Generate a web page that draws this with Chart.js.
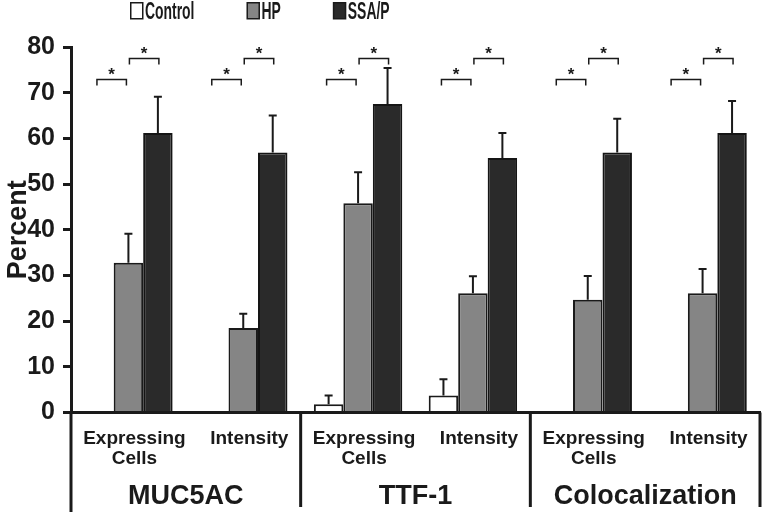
<!DOCTYPE html>
<html>
<head>
<meta charset="utf-8">
<script src="https://cdn.jsdelivr.net/npm/chart.js@4.4.1/dist/chart.umd.min.js"></script>
<style>
  body { margin: 0; background: #fff; }
  #wrap { width: 763px; height: 512px; }
</style>
</head>
<body>
<div id="wrap"><canvas id="grafica"></canvas></div>
<script>
// datos
const categorias = [['Expressing', 'Cells'], 'Intensity', ['Expressing', 'Cells'], 'Intensity', ['Expressing', 'Cells'], 'Intensity'];
const grupos = ['MUC5AC', 'TTF-1', 'Colocalization'];
const series = ['Control', 'HP', 'SSA/P'];
const control = [0, 0, 1.8, 3.7, 0, 0];
const controlErr = [0, 0, 1.9, 3.6, 0, 0];
const hp = [32.8, 18.5, 45.8, 26.1, 24.7, 26.1];
const hpErr = [6.3, 3.1, 6.8, 3.7, 5.2, 5.3];
const ssap = [61.2, 56.9, 67.5, 55.7, 56.9, 61.2];
const ssapErr = [7.9, 8.1, 7.9, 5.5, 7.4, 7.0];
const yTicks = [0, 10, 20, 30, 40, 50, 60, 70, 80];
const nivelSig = [73.1, 77.5]; // altura de los corchetes * (control-HP, HP-SSA/P)

const NEGRO = '#1a1a1a';
const rellenos = ['#ffffff', '#858585', '#2a2a2a'];
const FUENTE = '"Liberation Sans", Arial, sans-serif';

// barras de error solo hacia arriba
const erroresPlugin = {
    id: 'errores',
    afterDatasetsDraw(chart) {
        const ctx = chart.ctx;
        const y = chart.scales.y;
        const errs = [controlErr, hpErr, ssapErr];
        ctx.save();
        ctx.strokeStyle = NEGRO;
        ctx.lineWidth = 2;
        chart.data.datasets.forEach((ds, i) => {
            chart.getDatasetMeta(i).data.forEach((bar, j) => {
                const e = errs[i][j];
                if (!e) return;
                const top = y.getPixelForValue(ds.data[j] + e);
                ctx.beginPath();
                ctx.moveTo(bar.x, bar.y);
                ctx.lineTo(bar.x, top);
                ctx.moveTo(bar.x - 4, top);
                ctx.lineTo(bar.x + 4, top);
                ctx.stroke();
            });
        });
        ctx.restore();
    }
};

// corchetes de significancia, leyenda, separadores y nombres de grupo
const extrasPlugin = {
    id: 'extras',
    afterDraw(chart) {
        const ctx = chart.ctx;
        const x = chart.scales.x;
        const y = chart.scales.y;
        const area = chart.chartArea;
        const m0 = chart.getDatasetMeta(0).data;
        const m1 = chart.getDatasetMeta(1).data;
        const m2 = chart.getDatasetMeta(2).data;
        ctx.save();
        ctx.strokeStyle = NEGRO;
        ctx.fillStyle = NEGRO;
        ctx.lineWidth = 1.5;
        ctx.textAlign = 'center';
        ctx.textBaseline = 'middle';
        ctx.font = 'bold 17px ' + FUENTE;
        for (let j = 0; j < categorias.length; j++) {
            const pares = [[m0[j].x - 2, m1[j].x - 2, nivelSig[0]], [m1[j].x + 1, m2[j].x + 1, nivelSig[1]]];
            pares.forEach(([a, b, v]) => {
                const py = Math.round(y.getPixelForValue(v)) + 0.5;
                ctx.beginPath();
                ctx.moveTo(a, py + 6);
                ctx.lineTo(a, py);
                ctx.lineTo(b, py);
                ctx.lineTo(b, py + 6);
                ctx.stroke();
                ctx.fillText('*', (a + b) / 2, py - 4);
            });
        }

        // separadores
        ctx.lineWidth = 3;
        [-0.5, 1.5, 3.5, 5.5].forEach((v, k) => {
            const px = x.getPixelForValue(v);
            ctx.beginPath();
            ctx.moveTo(px, area.bottom);
            ctx.lineTo(px, k === 0 ? chart.height : chart.height - 5);
            ctx.stroke();
        });

        // nombres de grupo
        ctx.font = 'bold 27px ' + FUENTE;
        grupos.forEach((g, k) => {
            const cx = (x.getPixelForValue(2 * k - 0.5) + x.getPixelForValue(2 * k + 1.5)) / 2;
            ctx.fillText(g, cx, 497);
        });

        // leyenda (letra condensada)
        ctx.textAlign = 'left';
        ctx.font = 'bold 24px ' + FUENTE;
        ctx.lineWidth = 1.5;
        const comp = 0.58;
        let lx = 130;
        series.forEach((s, i) => {
            ctx.fillStyle = rellenos[i];
            ctx.fillRect(lx + 0.75, 2.75, 12, 16);
            ctx.strokeRect(lx + 0.75, 2.75, 12, 16);
            ctx.fillStyle = NEGRO;
            ctx.save();
            ctx.translate(lx + 15, 12);
            ctx.scale(comp, 1);
            ctx.fillText(s, 0, 0);
            ctx.restore();
            lx += 15 + ctx.measureText(s).width * comp + 52;
        });
        ctx.restore();
    }
};

const ctx = document.getElementById('grafica').getContext('2d');
new Chart(ctx, {
    type: 'bar',
    data: {
        labels: categorias,
        datasets: [
            { label: series[0], data: control, backgroundColor: rellenos[0], borderColor: NEGRO, borderWidth: 2 },
            { label: series[1], data: hp, backgroundColor: rellenos[1], borderColor: NEGRO, borderWidth: 2 },
            { label: series[2], data: ssap, backgroundColor: rellenos[2], borderColor: '#151515', borderWidth: 2 }
        ]
    },
    options: {
        responsive: true,
        maintainAspectRatio: false,
        animation: false,
        categoryPercentage: 0.77,
        barPercentage: 1,
        layout: { padding: { top: 47, right: 3, left: 0, bottom: 0 } },
        plugins: {
            legend: { display: false },
            tooltip: { enabled: false }
        },
        scales: {
            x: {
                grid: { display: false },
                border: { color: NEGRO, width: 3 },
                ticks: {
                    color: NEGRO,
                    font: { family: FUENTE, size: 19, weight: 'bold', lineHeight: 1.05 },
                    padding: 8,
                    labelOffset: 6,
                    maxRotation: 0,
                    autoSkip: false
                },
                afterFit: s => { s.height = 99.5; }
            },
            y: {
                min: 0,
                max: 80,
                afterBuildTicks: s => { s.ticks = yTicks.map(v => ({ value: v })); },
                ticks: {
                    color: NEGRO,
                    font: { family: FUENTE, size: 25, weight: 'bold' },
                    padding: 8
                },
                grid: { drawOnChartArea: false, drawTicks: true, tickLength: 8, color: NEGRO, lineWidth: 3 },
                border: { color: NEGRO, width: 3 },
                title: {
                    display: true,
                    text: 'Percent',
                    color: NEGRO,
                    font: { family: FUENTE, size: 27, weight: 'bold' },
                    padding: { top: 2, bottom: 0 }
                },
                afterFit: s => { s.width = 71; }
            }
        }
    },
    plugins: [erroresPlugin, extrasPlugin]
});
</script>
</body>
</html>
